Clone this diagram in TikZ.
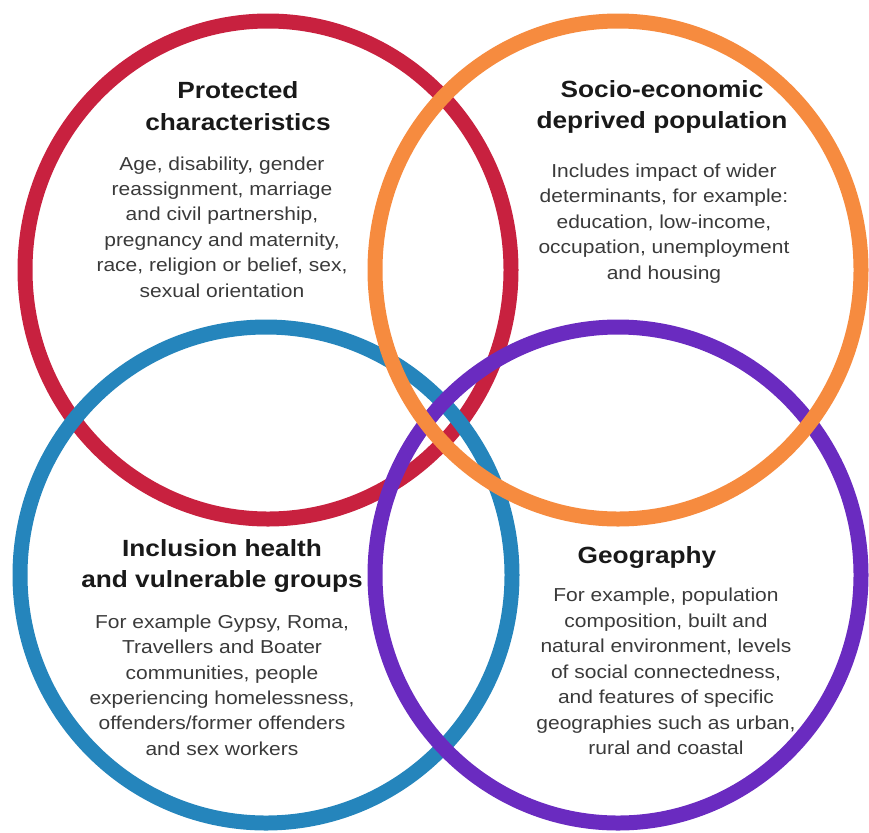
\documentclass[tikz,border=0pt]{standalone}
\usepackage{fontspec}
\setmainfont[FakeStretch=1.12]{Liberation Sans}
\usepackage{tikz}
\usetikzlibrary{positioning}

\definecolor{ringred}{HTML}{C8213F}
\definecolor{ringorange}{HTML}{F68B3F}
\definecolor{ringblue}{HTML}{2585BC}
\definecolor{ringpurple}{HTML}{6A2BC0}
\definecolor{bodygray}{HTML}{3A3A3A}

\tikzset{
  ring/.style={line width=12.8pt},
  heading/.style={inner sep=0pt,align=center,text=black!90,font=\fontsize{20}{27}\selectfont\bfseries},
  blurb/.style={inner sep=0pt,align=center,text=bodygray,font=\fontsize{16}{21.7}\selectfont}
}

\begin{document}
\begin{tikzpicture}[x=0.03cm,y=-0.03cm]
		\useasboundingbox (0,0) rectangle (869,832);

		% the four rings, bottom one first
		\draw[ring,ringred] (268,270) ellipse [x radius=243, y radius=249];
		\draw[ring,ringblue] (266,575) ellipse [x radius=246, y radius=248];
		\draw[ring,ringpurple] (618,575) ellipse [x radius=243, y radius=248];
		\draw[ring,ringorange] (618,270) ellipse [x radius=243, y radius=249];

		\node[heading] (prot) at (238,106) {Protected\\characteristics};
		\node[blurb] (protx) at (222,227) {Age, disability, gender\\reassignment, marriage\\and civil partnership,\\pregnancy and maternity,\\race, religion or belief, sex,\\sexual orientation};

		\node[heading] (socio) at (662,107) {Socio-economic\\deprived population};
		\node[blurb] (sociox) at (664,223.5) {Includes impact of wider\\determinants, for example:\\education, low-income,\\occupation, unemployment\\and housing};

		\node[heading] (incl) at (222,566) {Inclusion health\\and vulnerable groups};
		\node[blurb] (inclx) at (222,685) {For example Gypsy, Roma,\\Travellers and Boater\\communities, people\\experiencing homelessness,\\offenders/former offenders\\and sex workers};

		\node[heading] (geo) at (647,557) {Geography};
		\node[blurb] (geox) at (666,671.5) {For example, population\\composition, built and\\natural environment, levels\\of social connectedness,\\and features of specific\\geographies such as urban,\\rural and coastal};
	\end{tikzpicture}
\end{document}
